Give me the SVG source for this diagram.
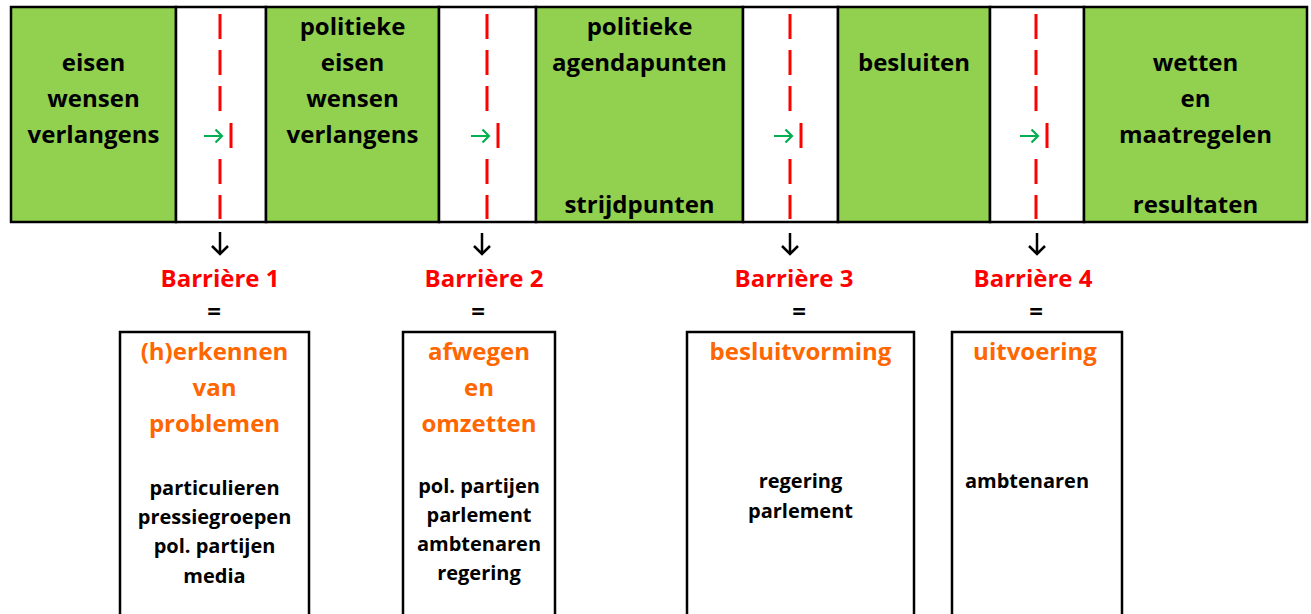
<svg xmlns="http://www.w3.org/2000/svg" width="1311" height="614" viewBox="0 0 1311 614">
<style>
.g{fill:#92D050;stroke:#000;stroke-width:2.5}
.w{fill:#fff;stroke:#000;stroke-width:2.5}
.t{font-family:"Open Sans","Liberation Sans",sans-serif;font-weight:bold;font-size:24px;fill:#000;text-anchor:middle}
.r{font-family:"Open Sans","Liberation Sans",sans-serif;font-weight:bold;font-size:24px;fill:#FF0000;text-anchor:middle}
.o{font-family:"Open Sans","Liberation Sans",sans-serif;font-weight:bold;font-size:24px;fill:#FF6600;text-anchor:middle}
.s{font-family:"Open Sans","Liberation Sans",sans-serif;font-weight:bold;font-size:20px;fill:#000;text-anchor:middle}
.dash{stroke:#FF0000;stroke-width:3;fill:none;stroke-dasharray:25 11}
.seg{stroke:#FF0000;stroke-width:3;fill:none}
.ga{stroke:#00B050;stroke-width:2.2;fill:none}
.da{stroke:#000;stroke-width:2.5;fill:none}
</style>
<rect width="1311" height="614" fill="#fff"/>
<g id="stage1"><rect class="g" x="11" y="7" width="165" height="215"/>
<text class="t" x="93.5" y="71">eisen</text><text class="t" x="93.5" y="107">wensen</text><text class="t" x="93.5" y="143">verlangens</text></g>
<g id="gap1"><rect class="w" x="176" y="7" width="90" height="215"/></g>
<g id="stage2"><rect class="g" x="266" y="7" width="173" height="215"/>
<text class="t" x="352.5" y="35">politieke</text><text class="t" x="352.5" y="71">eisen</text><text class="t" x="352.5" y="107">wensen</text><text class="t" x="352.5" y="143">verlangens</text></g>
<g id="gap2"><rect class="w" x="439" y="7" width="97" height="215"/></g>
<g id="stage3"><rect class="g" x="536" y="7" width="207" height="215"/>
<text class="t" x="639.5" y="35">politieke</text><text class="t" x="639.5" y="71">agendapunten</text><text class="t" x="639.5" y="213">strijdpunten</text></g>
<g id="gap3"><rect class="w" x="743" y="7" width="95" height="215"/></g>
<g id="stage4"><rect class="g" x="838" y="7" width="152" height="215"/>
<text class="t" x="914" y="71">besluiten</text></g>
<g id="gap4"><rect class="w" x="990" y="7" width="94" height="215"/></g>
<g id="stage5"><rect class="g" x="1084" y="7" width="223" height="215"/>
<text class="t" x="1195.5" y="71">wetten</text><text class="t" x="1195.5" y="107">en</text><text class="t" x="1195.5" y="143">maatregelen</text><text class="t" x="1195.5" y="213">resultaten</text></g>
<g id="connectors">
<path class="dash" d="M220 14V112M220 159V219"/><path class="seg" d="M231 123V148"/>
<path class="ga" d="M204 136H222M215.5 129.5L222 136L215.5 142.5"/>
<path class="dash" d="M487 14V112M487 159V219"/><path class="seg" d="M498 123V148"/>
<path class="ga" d="M471 136H489M482.5 129.5L489 136L482.5 142.5"/>
<path class="dash" d="M790 14V112M790 159V219"/><path class="seg" d="M801 123V148"/>
<path class="ga" d="M774 136H792M785.5 129.5L792 136L785.5 142.5"/>
<path class="dash" d="M1036 14V112M1036 159V219"/><path class="seg" d="M1047 123V148"/>
<path class="ga" d="M1020 136H1038M1031.5 129.5L1038 136L1031.5 142.5"/>
<path class="da" d="M220 232V254M212 246L220 254L228 246"/>
<path class="da" d="M482 233V254M474 246L482 254L490 246"/>
<path class="da" d="M790 233V254M782 246L790 254L798 246"/>
<path class="da" d="M1037 233V254M1029 246L1037 254L1045 246"/>
</g>
<g id="barrier1"><text class="r" x="220" y="287">Barrière 1</text><text class="t" x="214" y="320">=</text>
<rect class="w" x="120" y="332" width="189" height="300"/>
<text class="o" x="214.5" y="360">(h)erkennen</text><text class="o" x="214.5" y="396">van</text><text class="o" x="214.5" y="432">problemen</text>
<text class="s" x="214.5" y="495">particulieren</text><text class="s" x="214.5" y="524">pressiegroepen</text><text class="s" x="214.5" y="553">pol. partijen</text><text class="s" x="214.5" y="583">media</text></g>
<g id="barrier2"><text class="r" x="484" y="287">Barrière 2</text><text class="t" x="478" y="320">=</text>
<rect class="w" x="403" y="332" width="152" height="300"/>
<text class="o" x="479" y="360">afwegen</text><text class="o" x="479" y="396">en</text><text class="o" x="479" y="432">omzetten</text>
<text class="s" x="479" y="493">pol. partijen</text><text class="s" x="479" y="522">parlement</text><text class="s" x="479" y="551">ambtenaren</text><text class="s" x="479" y="580">regering</text></g>
<g id="barrier3"><text class="r" x="794" y="287">Barrière 3</text><text class="t" x="799" y="320">=</text>
<rect class="w" x="687" y="332" width="227" height="300"/>
<text class="o" x="800.5" y="360">besluitvorming</text>
<text class="s" x="800.5" y="488">regering</text><text class="s" x="800.5" y="518">parlement</text></g>
<g id="barrier4"><text class="r" x="1033" y="287">Barrière 4</text><text class="t" x="1036" y="320">=</text>
<rect class="w" x="952" y="332" width="170" height="300"/>
<text class="o" x="1035" y="360">uitvoering</text>
<text class="s" x="1027" y="488">ambtenaren</text></g>
</svg>
